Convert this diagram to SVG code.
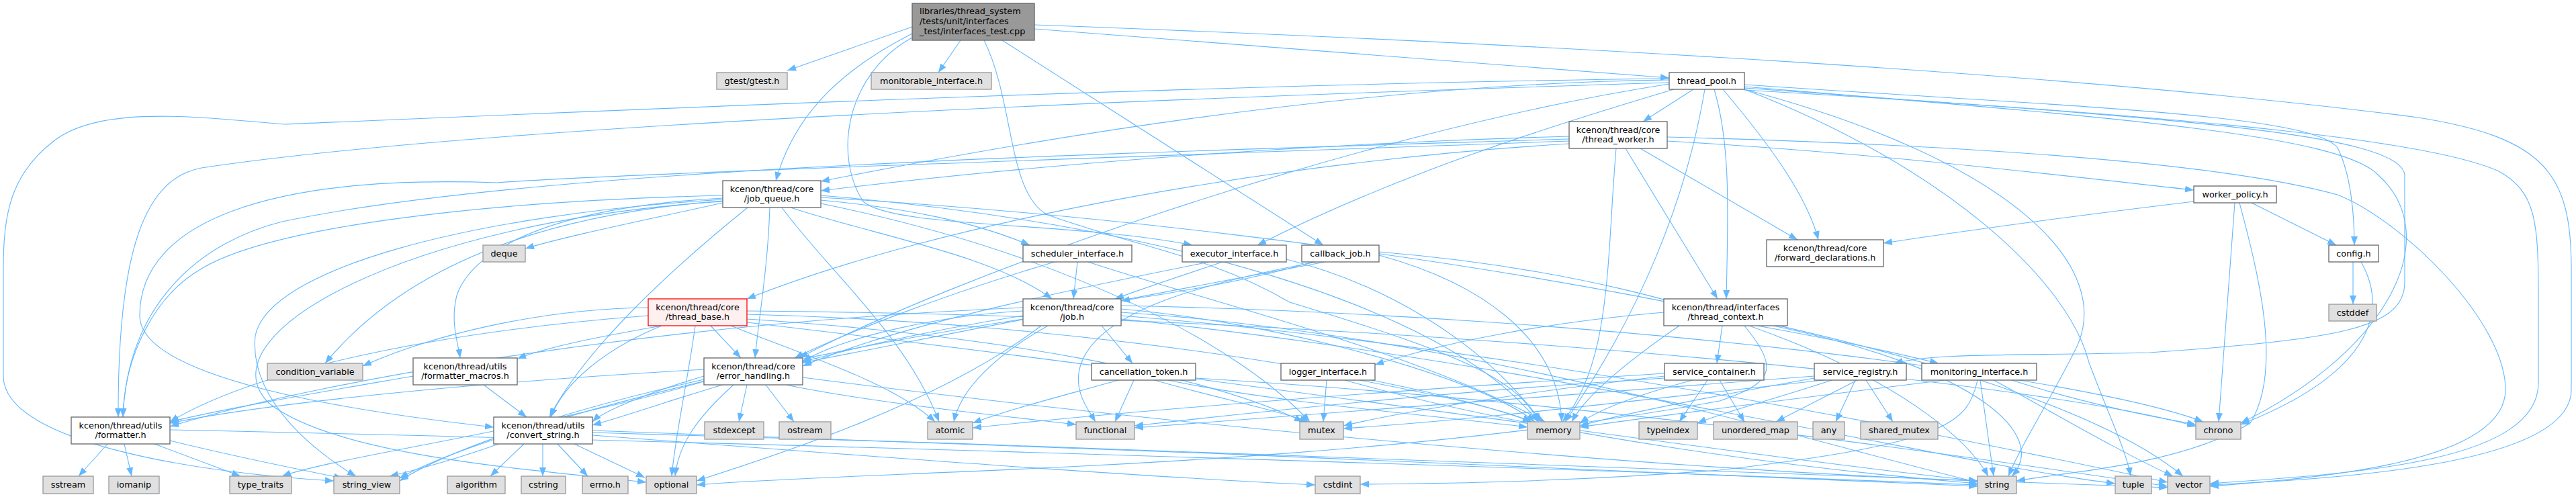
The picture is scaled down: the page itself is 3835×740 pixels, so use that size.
<svg xmlns="http://www.w3.org/2000/svg" width="3835" height="740" viewBox="0 0 3835 740">
<defs>
<marker id="arr" markerUnits="userSpaceOnUse" markerWidth="14" markerHeight="11" refX="13" refY="5" orient="auto">
<path d="M0,0 L13,5 L0,10 Z" fill="#63b8ff"/>
</marker>
<style>
rect{stroke-width:1.3}
.w{fill:#ffffff;stroke:#666666}
.g{fill:#e0e0e0;stroke:#999999}
.r{fill:#999999;stroke:#666666}
.red{fill:#fff0f0;stroke:#ff0000}
text{font-family:"DejaVu Sans","Liberation Sans",sans-serif;font-size:12.8px;fill:#000000}
.c{text-anchor:middle}
#edges path{fill:none;stroke:#63b8ff;stroke-width:1.1;marker-end:url(#arr)}
</style>
</defs>
<rect width="3835" height="740" fill="#ffffff"/>
<g id="edges">
<path d="M1358,40 C1300,60 1230,85 1172,105"/>
<path d="M1430,60 L1397,108"/>
<path d="M1540,43 L2485,116"/>
<path d="M1358,50 C1240,110 1180,180 1155,269"/>
<path d="M1358,56 C1260,110 1240,230 1285,300 C1330,340 1600,330 1775,365"/>
<path d="M1465,60 C1510,150 1500,290 1560,320 C1700,370 1800,380 1920,450 C2150,520 2260,560 2290,628"/>
<path d="M1492,60 L1970,365"/>
<path d="M1540,37 C2300,65 3100,110 3600,175 C3790,205 3828,260 3828,400 L3828,580 C3828,690 3500,712 3290,722"/>
<path d="M2521,133 L2446,181"/>
<path d="M2485,119 C2000,125 1500,215 1222,270"/>
<path d="M2492,133 C2300,190 2080,260 1872,365"/>
<path d="M2552,133 C2578,220 2572,330 2570,445"/>
<path d="M2565,133 C2630,210 2690,290 2707,357"/>
<path d="M2538,133 C2510,300 2440,470 2330,628"/>
<path d="M2597,126 C3100,160 3440,170 3480,220 C3500,260 3505,320 3505,365"/>
<path d="M2597,129 C3150,175 3480,200 3540,260 C3640,350 3560,520 3336,630"/>
<path d="M2597,131 C3200,175 3570,195 3580,260 L3580,420 C3580,490 3480,505 3200,525 C3000,530 2880,525 2820,541"/>
<path d="M2597,134 C3300,175 3620,210 3720,255 C3775,285 3779,330 3779,440 L3779,570 C3779,690 3500,705 3290,720"/>
<path d="M2597,133 C3000,240 3150,400 3090,520 C3050,600 3010,660 2990,709"/>
<path d="M2485,123 C1600,150 700,190 300,250 C220,265 175,360 176,621"/>
<path d="M2485,117 C1800,125 900,165 424,185 C300,175 150,155 80,210 C15,260 5,320 5,400 L5,560 C5,660 300,705 497,716"/>
<path d="M2485,125 C2000,200 1400,420 1190,533"/>
<path d="M2597,133 C2900,250 3080,420 3110,540 C3140,620 3165,670 3172,709"/>
<path d="M2482,210 C2800,228 3100,265 3266,283"/>
<path d="M2482,204 C2900,215 3300,240 3480,290 C3580,330 3730,480 3730,580 C3730,690 3450,712 3290,724"/>
<path d="M2420,221 L2557,445"/>
<path d="M2442,221 L2676,357"/>
<path d="M2406,221 C2392,380 2400,540 2326,628"/>
<path d="M2336,203 C1900,215 1500,250 1222,284"/>
<path d="M2336,214 C1900,240 1400,330 1112,445"/>
<path d="M2336,207 C1600,230 800,250 420,330 C300,360 190,450 183,621"/>
<path d="M2336,210 C1500,240 900,260 740,272 C400,260 208,330 208,470 C208,560 500,610 735,636"/>
<path d="M1222,298 C1350,310 1450,330 1533,365"/>
<path d="M1177,309 C1300,350 1480,380 1566,445"/>
<path d="M1113,309 C1000,400 870,520 818,621"/>
<path d="M1146,309 C1143,400 1130,470 1124,533"/>
<path d="M1164,309 C1230,400 1350,500 1398,628"/>
<path d="M1076,302 C950,330 850,350 782,370"/>
<path d="M1076,295 C800,310 700,380 680,440 C670,480 682,510 685,533"/>
<path d="M1076,291 C700,300 400,340 300,400 C230,440 185,530 183,621"/>
<path d="M1076,299 C800,320 600,400 484,541"/>
<path d="M1076,297 C700,320 400,400 380,500 C370,600 480,680 530,709"/>
<path d="M1076,300 C600,330 300,500 400,600 C500,680 800,700 962,718"/>
<path d="M1222,291 C1700,330 2150,450 2290,628"/>
<path d="M1222,294 C2000,340 3000,500 3250,709"/>
<path d="M1222,303 C1600,380 1850,520 1950,628"/>
<path d="M965,458 C800,460 640,500 540,545"/>
<path d="M985,485 C900,500 820,515 770,534"/>
<path d="M985,485 C900,520 840,570 820,621"/>
<path d="M1035,485 C1025,560 1005,650 1000,709"/>
<path d="M1058,485 L1103,533"/>
<path d="M1088,485 C1200,530 1330,570 1392,628"/>
<path d="M965,470 C700,490 400,540 253,628"/>
<path d="M1112,468 C1600,480 2100,560 2280,628"/>
<path d="M1112,475 C1500,500 1800,560 1940,628"/>
<path d="M1112,463 C2000,470 3000,560 3270,635"/>
<path d="M1112,480 C1800,560 2600,680 2944,716"/>
<path d="M1640,485 L1686,541"/>
<path d="M1560,485 C1480,530 1430,580 1420,628"/>
<path d="M1523,463 C1400,470 1260,500 1195,538"/>
<path d="M1523,458 C1000,480 500,560 253,635"/>
<path d="M1523,470 C1200,520 1000,600 882,633"/>
<path d="M1523,475 C1100,540 700,650 595,712"/>
<path d="M1550,485 C1400,600 1150,680 1037,716"/>
<path d="M1669,460 C1900,480 2200,560 2285,628"/>
<path d="M1669,465 C2200,500 2700,660 2944,718"/>
<path d="M1669,455 C2400,470 3100,560 3280,628"/>
<path d="M1669,470 C2300,520 3000,670 3227,718"/>
<path d="M1669,475 C2300,540 2900,690 3149,720"/>
<path d="M1665,566 C1580,590 1500,610 1448,630"/>
<path d="M1688,566 L1660,628"/>
<path d="M1719,566 C1800,590 1900,610 1948,628"/>
<path d="M1739,566 C1900,600 2150,620 2274,636"/>
<path d="M1780,563 C2400,600 3000,690 3227,724"/>
<path d="M1820,390 C1760,410 1700,430 1660,445"/>
<path d="M1800,390 C1600,430 1350,480 1195,545"/>
<path d="M1915,386 C2050,420 2200,500 2295,628"/>
<path d="M1604,390 L1598,445"/>
<path d="M1570,390 C1400,440 1250,500 1183,533"/>
<path d="M1620,390 C1800,450 2100,520 2300,628"/>
<path d="M1955,390 C1850,420 1750,435 1669,448"/>
<path d="M1973,390 C1700,440 1400,500 1195,540"/>
<path d="M1960,390 C1800,420 1640,460 1610,540 C1595,580 1620,610 1631,628"/>
<path d="M2053,380 C2200,420 2320,500 2325,628"/>
<path d="M2053,375 C2600,420 2900,600 2960,709"/>
<path d="M2477,465 C2300,480 2150,510 2047,543"/>
<path d="M2564,485 L2556,541"/>
<path d="M2616,485 C2700,500 2800,520 2886,541"/>
<path d="M2597,485 C2650,550 2640,570 2560,597 C2000,700 1300,700 1037,722"/>
<path d="M2640,485 C2950,550 3050,650 2995,709"/>
<path d="M2500,485 C2420,540 2360,590 2340,628"/>
<path d="M1975,566 L1970,628"/>
<path d="M2002,566 C2300,650 2700,700 2944,720"/>
<path d="M2024,566 C2150,590 2240,610 2280,628"/>
<path d="M2478,560 C2300,580 2100,610 2000,634"/>
<path d="M2520,566 C2430,590 2380,610 2352,630"/>
<path d="M2542,566 L2500,628"/>
<path d="M2560,566 L2597,628"/>
<path d="M2478,563 C2200,580 1900,610 1689,634"/>
<path d="M2478,556 C2100,580 1700,610 1448,637"/>
<path d="M2765,566 L2644,628"/>
<path d="M2762,566 L2733,628"/>
<path d="M2778,566 L2818,628"/>
<path d="M2701,563 C2550,590 2420,615 2352,634"/>
<path d="M2727,566 C2640,595 2570,612 2527,630"/>
<path d="M2701,560 C2300,590 1900,620 1689,637"/>
<path d="M2715,566 C2400,600 2200,625 2000,638"/>
<path d="M2895,566 C2700,590 2500,615 2352,636"/>
<path d="M2944,566 C2930,630 2900,660 2560,700 C2300,720 2100,720 2025,721"/>
<path d="M2948,566 L2968,709"/>
<path d="M2968,566 C3050,610 3150,670 3235,709"/>
<path d="M2995,566 C3100,600 3200,620 3269,632"/>
<path d="M3503,390 L3503,453"/>
<path d="M3515,390 C3560,470 3520,560 3336,632"/>
<path d="M3266,300 C3100,320 2950,340 2804,362"/>
<path d="M3327,302 L3303,628"/>
<path d="M3334,302 C3360,400 3400,550 3350,630 C3250,690 3100,700 3002,716"/>
<path d="M3352,302 L3478,365"/>
<path d="M1112,573 L1100,628"/>
<path d="M1140,573 L1182,628"/>
<path d="M1092,573 C1040,620 1010,660 1005,709"/>
<path d="M1048,560 C980,580 900,610 882,628"/>
<path d="M1048,550 C700,570 400,600 253,630"/>
<path d="M1195,562 C1800,640 2500,700 2944,716"/>
<path d="M1170,573 C1300,600 1500,620 1602,632"/>
<path d="M1048,565 C800,620 650,680 595,716"/>
<path d="M1048,568 C800,640 500,680 420,709"/>
<path d="M720,573 L784,621"/>
<path d="M615,560 C500,580 350,605 253,628"/>
<path d="M160,661 L117,709"/>
<path d="M185,661 L196,709"/>
<path d="M230,661 L358,709"/>
<path d="M253,656 C350,680 450,700 510,712"/>
<path d="M253,640 C1200,660 2400,700 2944,722"/>
<path d="M780,661 L730,709"/>
<path d="M808,661 L808,709"/>
<path d="M830,661 L875,709"/>
<path d="M855,661 L960,711"/>
<path d="M742,661 C690,680 620,700 580,709"/>
<path d="M882,641 C1500,660 2400,700 2944,724"/>
<path d="M882,644 C1800,670 2900,710 3227,726"/>
<path d="M882,648 C1300,680 1700,710 1958,722"/>
</g>
<g id="node-root"><rect class="r" x="1358" y="5" width="182" height="55"/><text x="1369" y="21">libraries/thread_system</text><text x="1369" y="36">/tests/unit/interfaces</text><text x="1369" y="51">_test/interfaces_test.cpp</text></g>
<g id="node-gtest"><rect class="g" x="1067" y="108" width="105" height="25"/><text class="c" x="1119.5" y="124.5">gtest/gtest.h</text></g>
<g id="node-monitorable"><rect class="g" x="1297" y="108" width="179" height="25"/><text class="c" x="1386.5" y="124.5">monitorable_interface.h</text></g>
<g id="node-thread_pool"><rect class="w" x="2485" y="108" width="112" height="25"/><text class="c" x="2541" y="124.5">thread_pool.h</text></g>
<g id="node-thread_worker"><rect class="w" x="2336" y="181" width="146" height="40"/><text class="c" x="2409" y="197.5">kcenon/thread/core</text><text class="c" x="2409" y="211.5">/thread_worker.h</text></g>
<g id="node-job_queue"><rect class="w" x="1076" y="269" width="146" height="40"/><text class="c" x="1149" y="285.5">kcenon/thread/core</text><text class="c" x="1149" y="299.5">/job_queue.h</text></g>
<g id="node-worker_policy"><rect class="w" x="3266" y="277" width="123" height="25"/><text class="c" x="3327.5" y="293.5">worker_policy.h</text></g>
<g id="node-forward_declarations"><rect class="w" x="2630" y="357" width="174" height="40"/><text class="c" x="2717" y="373.5">kcenon/thread/core</text><text class="c" x="2717" y="387.5">/forward_declarations.h</text></g>
<g id="node-deque"><rect class="g" x="719" y="365" width="63" height="25"/><text class="c" x="750.5" y="381.5">deque</text></g>
<g id="node-scheduler_interface"><rect class="w" x="1523" y="365" width="162" height="25"/><text class="c" x="1604" y="381.5">scheduler_interface.h</text></g>
<g id="node-executor_interface"><rect class="w" x="1760" y="365" width="155" height="25"/><text class="c" x="1837.5" y="381.5">executor_interface.h</text></g>
<g id="node-callback_job"><rect class="w" x="1938" y="365" width="115" height="25"/><text class="c" x="1995.5" y="381.5">callback_job.h</text></g>
<g id="node-config"><rect class="w" x="3467" y="365" width="74" height="25"/><text class="c" x="3504" y="381.5">config.h</text></g>
<g id="node-thread_base"><rect class="red" x="965" y="445" width="147" height="40"/><text class="c" x="1038.5" y="461.5">kcenon/thread/core</text><text class="c" x="1038.5" y="475.5">/thread_base.h</text></g>
<g id="node-job"><rect class="w" x="1523" y="445" width="146" height="40"/><text class="c" x="1596" y="461.5">kcenon/thread/core</text><text class="c" x="1596" y="475.5">/job.h</text></g>
<g id="node-thread_context"><rect class="w" x="2477" y="445" width="184" height="40"/><text class="c" x="2569" y="461.5">kcenon/thread/interfaces</text><text class="c" x="2569" y="475.5">/thread_context.h</text></g>
<g id="node-cstddef"><rect class="g" x="3467" y="453" width="71" height="25"/><text class="c" x="3502.5" y="469.5">cstddef</text></g>
<g id="node-formatter_macros"><rect class="w" x="615" y="533" width="155" height="40"/><text class="c" x="692.5" y="549.5">kcenon/thread/utils</text><text class="c" x="692.5" y="563.5">/formatter_macros.h</text></g>
<g id="node-error_handling"><rect class="w" x="1048" y="533" width="147" height="40"/><text class="c" x="1121.5" y="549.5">kcenon/thread/core</text><text class="c" x="1121.5" y="563.5">/error_handling.h</text></g>
<g id="node-condition_variable"><rect class="g" x="398" y="541" width="142" height="25"/><text class="c" x="469" y="557.5">condition_variable</text></g>
<g id="node-cancellation_token"><rect class="w" x="1625" y="541" width="155" height="25"/><text class="c" x="1702.5" y="557.5">cancellation_token.h</text></g>
<g id="node-logger_interface"><rect class="w" x="1907" y="541" width="140" height="25"/><text class="c" x="1977" y="557.5">logger_interface.h</text></g>
<g id="node-service_container"><rect class="w" x="2478" y="541" width="148" height="25"/><text class="c" x="2552" y="557.5">service_container.h</text></g>
<g id="node-service_registry"><rect class="w" x="2701" y="541" width="137" height="25"/><text class="c" x="2769.5" y="557.5">service_registry.h</text></g>
<g id="node-monitoring_interface"><rect class="w" x="2861" y="541" width="171" height="25"/><text class="c" x="2946.5" y="557.5">monitoring_interface.h</text></g>
<g id="node-formatter"><rect class="w" x="106" y="621" width="147" height="40"/><text class="c" x="179.5" y="637.5">kcenon/thread/utils</text><text class="c" x="179.5" y="651.5">/formatter.h</text></g>
<g id="node-convert_string"><rect class="w" x="735" y="621" width="147" height="40"/><text class="c" x="808.5" y="637.5">kcenon/thread/utils</text><text class="c" x="808.5" y="651.5">/convert_string.h</text></g>
<g id="node-stdexcept"><rect class="g" x="1049" y="628" width="88" height="26"/><text class="c" x="1093" y="645">stdexcept</text></g>
<g id="node-ostream"><rect class="g" x="1160" y="628" width="77" height="26"/><text class="c" x="1198.5" y="645">ostream</text></g>
<g id="node-atomic"><rect class="g" x="1381" y="628" width="67" height="26"/><text class="c" x="1414.5" y="645">atomic</text></g>
<g id="node-functional"><rect class="g" x="1602" y="628" width="87" height="26"/><text class="c" x="1645.5" y="645">functional</text></g>
<g id="node-mutex"><rect class="g" x="1935" y="628" width="65" height="26"/><text class="c" x="1967.5" y="645">mutex</text></g>
<g id="node-memory"><rect class="g" x="2274" y="628" width="78" height="26"/><text class="c" x="2313" y="645">memory</text></g>
<g id="node-typeindex"><rect class="g" x="2440" y="628" width="87" height="26"/><text class="c" x="2483.5" y="645">typeindex</text></g>
<g id="node-unordered_map"><rect class="g" x="2551" y="628" width="125" height="26"/><text class="c" x="2613.5" y="645">unordered_map</text></g>
<g id="node-any"><rect class="g" x="2699" y="628" width="47" height="26"/><text class="c" x="2722.5" y="645">any</text></g>
<g id="node-shared_mutex"><rect class="g" x="2770" y="628" width="115" height="26"/><text class="c" x="2827.5" y="645">shared_mutex</text></g>
<g id="node-chrono"><rect class="g" x="3269" y="628" width="67" height="26"/><text class="c" x="3302.5" y="645">chrono</text></g>
<g id="node-sstream"><rect class="g" x="64" y="709" width="75" height="26"/><text class="c" x="101.5" y="726">sstream</text></g>
<g id="node-iomanip"><rect class="g" x="162" y="709" width="75" height="26"/><text class="c" x="199.5" y="726">iomanip</text></g>
<g id="node-type_traits"><rect class="g" x="342" y="709" width="92" height="26"/><text class="c" x="388" y="726">type_traits</text></g>
<g id="node-string_view"><rect class="g" x="497" y="709" width="98" height="26"/><text class="c" x="546" y="726">string_view</text></g>
<g id="node-algorithm"><rect class="g" x="666" y="709" width="86" height="26"/><text class="c" x="709" y="726">algorithm</text></g>
<g id="node-cstring"><rect class="g" x="776" y="709" width="66" height="26"/><text class="c" x="809" y="726">cstring</text></g>
<g id="node-errno"><rect class="g" x="867" y="709" width="68" height="26"/><text class="c" x="901" y="726">errno.h</text></g>
<g id="node-optional"><rect class="g" x="962" y="709" width="75" height="26"/><text class="c" x="999.5" y="726">optional</text></g>
<g id="node-cstdint"><rect class="g" x="1958" y="709" width="67" height="26"/><text class="c" x="1991.5" y="726">cstdint</text></g>
<g id="node-string"><rect class="g" x="2944" y="709" width="58" height="26"/><text class="c" x="2973" y="726">string</text></g>
<g id="node-tuple"><rect class="g" x="3149" y="709" width="54" height="26"/><text class="c" x="3176" y="726">tuple</text></g>
<g id="node-vector"><rect class="g" x="3227" y="709" width="63" height="26"/><text class="c" x="3258.5" y="726">vector</text></g>
</svg>
